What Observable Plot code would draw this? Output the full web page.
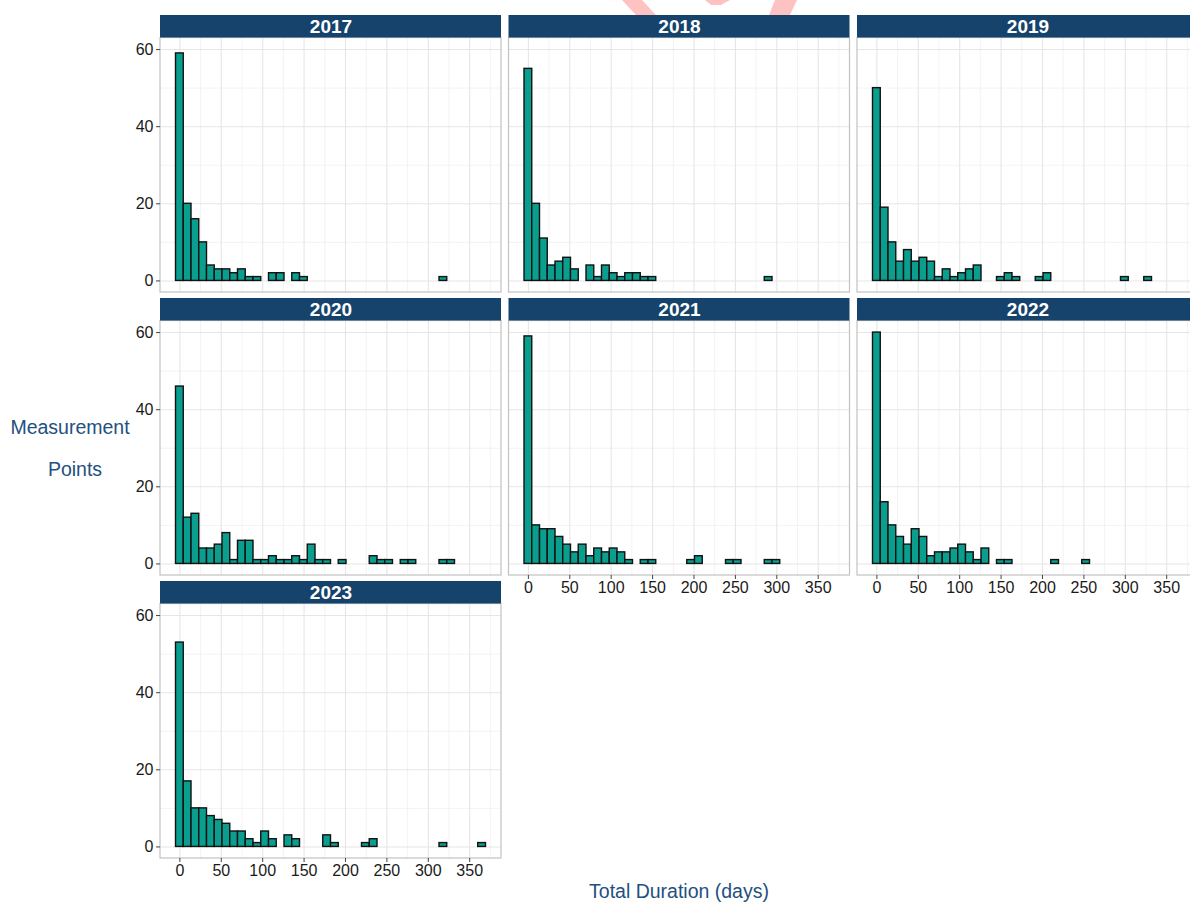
<!DOCTYPE html>
<html><head><meta charset="utf-8">
<script src="https://cdn.jsdelivr.net/npm/d3@7"></script>
<script src="https://cdn.jsdelivr.net/npm/@observablehq/plot@0.6"></script>
<style>
html,body{margin:0;padding:0;background:#fff;overflow:hidden;}
#wrap{position:relative;width:1190px;height:902px;overflow:hidden;font-family:"Liberation Sans",Arial,sans-serif;background:#fff;}
#chart{position:absolute;left:0;top:0;width:1200px;}
#chart svg{max-width:none !important;}
#deco{position:absolute;left:0;top:0;}
.ttl{position:absolute;color:#23507f;font-size:19.5px;white-space:nowrap;transform:translate(-50%,-50%);}
</style></head><body>
<div id="wrap"><div id="chart"></div>
<svg id="deco" width="1190" height="15"><g fill="#ffc2c2">
<polygon points="622,0 642,0 656,15 636,15"/>
<polygon points="705,0 730,0 721,5 711,5"/>
<polygon points="775,0 797,0 790,15 769,15"/>
</g></svg>
<div class="ttl" style="left:70px;top:427px">Measurement</div>
<div class="ttl" style="left:75px;top:469px">Points</div>
<div class="ttl" style="left:679px;top:891px">Total Duration (days)</div>
</div>
<script>
// ---- data ----
const years = ["2017","2018","2019","2020","2021","2022","2023"];
const binCenters = [0,9.36,18.72,28.08,37.44,46.79,56.15,65.51,74.87,84.23,
  93.59,102.95,112.31,121.67,131.03,140.38,149.74,159.10,168.46,177.82,
  187.18,196.54,205.90,215.26,224.62,233.97,243.33,252.69,262.05,271.41,
  280.77,290.13,299.49,308.85,318.21,327.56,336.92,346.28,355.64,365.00];
const binWidth = 9.359;
const counts2017 = [59,20,16,10,4,3,3,2,3,1, 1,0,2,2,0,2,1,0,0,0, 0,0,0,0,0,0,0,0,0,0, 0,0,0,0,1,0,0,0,0,0];
const counts2018 = [55,20,11,4,5,6,3,0,4,1, 4,2,1,2,2,1,1,0,0,0, 0,0,0,0,0,0,0,0,0,0, 0,1,0,0,0,0,0,0,0,0];
const counts2019 = [50,19,10,5,8,5,6,5,1,3, 1,2,3,4,0,0,1,2,1,0, 0,1,2,0,0,0,0,0,0,0, 0,0,1,0,0,1,0,0,0,0];
const counts2020 = [46,12,13,4,4,5,8,1,6,6, 1,1,2,1,1,2,1,5,1,1, 0,1,0,0,0,2,1,1,0,1, 1,0,0,0,1,1,0,0,0,0];
const counts2021 = [59,10,9,9,7,5,3,5,2,4, 3,4,3,1,0,1,1,0,0,0, 0,1,2,0,0,0,1,1,0,0, 0,1,1,0,0,0,0,0,0,0];
const counts2022 = [60,16,10,7,5,9,7,2,3,3, 4,5,3,1,4,0,1,1,0,0, 0,0,0,1,0,0,0,1,0,0, 0,0,0,0,0,0,0,0,0,0];
const counts2023 = [53,17,10,10,8,7,6,4,4,2, 1,4,2,0,3,2,0,0,0,3, 1,0,0,0,1,2,0,0,0,0, 0,0,0,0,1,0,0,0,0,1];
const xTicks = [0,50,100,150,200,250,300,350];
const xMinor = [25,75,125,175,225,275,325,375];
const yTicks = [0,20,40,60];
const yMinor = [10,30,50];

// ---- derived tables ----
const countsByYear = [counts2017,counts2018,counts2019,counts2020,counts2021,counts2022,counts2023];
const xmin = -23.4, xmax = 388.4, ymin = -3, ymax = 63, ystrip = 68.835;
const panels = years.map((y,i)=>({year:y, col:i%3, row:Math.floor(i/3)}));
const bars = [];
panels.forEach((p,i)=>countsByYear[i].forEach((c,k)=>{
  if (c>0) bars.push({...p, x1:binCenters[k]-binWidth/2, x2:binCenters[k]+binWidth/2, count:c});
}));
const cross = (vals)=>panels.flatMap(p=>vals.map(v=>({...p, v})));

const fc = {fx:"col", fy:"row"};
const plot = Plot.plot({
  width: 1200, height: 880,
  marginTop: 15, marginBottom: 22, marginLeft: 160, marginRight: 2,
  style: {fontFamily: '"Liberation Sans", Arial, sans-serif', fontSize: "16px", background: "white", overflow: "visible", maxWidth: "none"},
  fx: {axis: null, paddingInner: 0.02152, paddingOuter: 0, round: false},
  fy: {axis: null, paddingInner: 0.0212, paddingOuter: 0, round: false},
  x: {domain: [xmin, xmax]},
  y: {domain: [ymin, ystrip]},
  marks: [
    Plot.ruleY(cross(yMinor), {...fc, y:"v", x1:()=>xmin, x2:()=>xmax, stroke:"#ebebeb", strokeWidth:0.6}),
    Plot.ruleX(cross(xMinor), {...fc, x:"v", y1:()=>ymin, y2:()=>ymax, stroke:"#ebebeb", strokeWidth:0.6}),
    Plot.ruleY(cross(yTicks), {...fc, y:"v", x1:()=>xmin, x2:()=>xmax, stroke:"#e6e6e6", strokeWidth:1.1}),
    Plot.ruleX(cross(xTicks), {...fc, x:"v", y1:()=>ymin, y2:()=>ymax, stroke:"#e6e6e6", strokeWidth:1.1}),
    Plot.rectY(bars, {...fc, x1:"x1", x2:"x2", y:"count", fill:"#0a9e8f", stroke:"#111", strokeWidth:1.4}),
    Plot.rect(panels, {...fc, x1:()=>xmin, x2:()=>xmax, y1:()=>ymin, y2:()=>ymax, fill:"none", stroke:"#c2c2c2", strokeWidth:1.2}),
    Plot.rect(panels, {...fc, x1:()=>xmin, x2:()=>xmax, y1:()=>ymax, y2:()=>ystrip, fill:"#15436c"}),
    Plot.text(panels, {...fc, x:()=>(xmin+xmax)/2, y:()=>(ymax+ystrip)/2, text:"year", fill:"white", fontWeight:"bold", fontSize:19}),
    Plot.axisX({ticks:xTicks, tickSize:4, tickPadding:2, fontSize:16, stroke:"#444", fill:"#1a1a1a", facetAnchor:"bottom-empty", label:null, tickFormat:d=>String(d)}),
    Plot.axisY({ticks:yTicks, tickSize:4, tickPadding:3, fontSize:16, stroke:"#444", fill:"#1a1a1a", facetAnchor:"left", label:null, tickFormat:d=>String(d)})
  ]
});
document.getElementById("chart").appendChild(plot);
</script>
</body></html>
